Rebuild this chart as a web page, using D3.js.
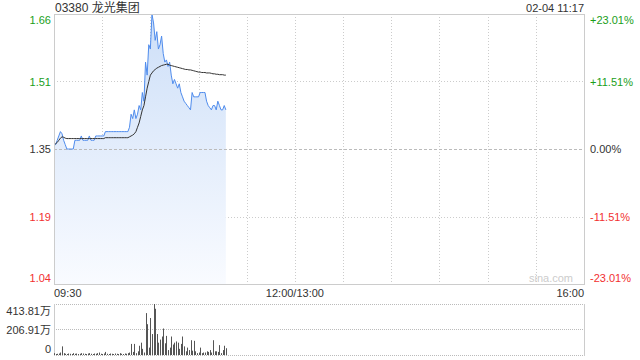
<!DOCTYPE html>
<html>
<head>
<meta charset="utf-8">
<script src="https://cdn.jsdelivr.net/npm/d3@7"></script>
<style>
  body { margin: 0; background: #fff; }
  text { font-family: "Liberation Sans", Arial, "Noto Sans CJK SC", sans-serif; }
</style>
</head>
<body>
<svg id="chart" width="640" height="360"></svg>
<script>
// quote header
var stockTitle = "03380 龙光集团";
var stamp = "02-04 11:17";
var prevClose = 1.35;

// axis ticks
var pctTicks = [0.2301, 0.1151, 0, -0.1151, -0.2301];
var priceLabels = ["1.66", "1.51", "1.35", "1.19", "1.04"];
var pctLabels = ["+23.01%", "+11.51%", "0.00%", "-11.51%", "-23.01%"];
var timeTicks = [0, 150, 330];
var timeLabels = ["09:30", "12:00/13:00", "16:00"];
var volTicks = [413.81, 206.91, 0];
var volLabels = ["413.81万", "206.91万", "0"];

// minute data from 09:30 (index = minute)
var price = [
  1.36, 1.36, 1.37, 1.38, 1.39, 1.385, 1.37, 1.36, 1.35, 1.35,
  1.35, 1.35, 1.35, 1.37, 1.37, 1.37, 1.37, 1.38, 1.37, 1.37,
  1.37, 1.37, 1.38, 1.37, 1.37, 1.37, 1.38, 1.38, 1.38, 1.38,
  1.38, 1.38, 1.39, 1.39, 1.39, 1.39, 1.39, 1.39, 1.39, 1.39,
  1.39, 1.39, 1.39, 1.39, 1.39, 1.39, 1.39, 1.40, 1.43, 1.42,
  1.44, 1.42, 1.43, 1.45, 1.44, 1.48, 1.46, 1.55, 1.52, 1.59,
  1.58, 1.66, 1.64, 1.60, 1.62, 1.58, 1.59, 1.61, 1.57, 1.55,
  1.555, 1.54, 1.55, 1.52, 1.50, 1.51, 1.50, 1.49, 1.50, 1.48,
  1.47, 1.46, 1.455, 1.45, 1.445, 1.44, 1.48, 1.47, 1.47, 1.47,
  1.47, 1.48, 1.48, 1.48, 1.48, 1.46, 1.45, 1.445, 1.44, 1.45,
  1.45, 1.44, 1.46, 1.45, 1.44, 1.44, 1.45, 1.44
];
var avg = [
  1.36, 1.362, 1.365, 1.37, 1.375, 1.378, 1.377, 1.375, 1.374, 1.374,
  1.374, 1.374, 1.374, 1.374, 1.374, 1.374, 1.374, 1.374, 1.374, 1.374,
  1.374, 1.374, 1.374, 1.374, 1.374, 1.374, 1.374, 1.374, 1.374, 1.374,
  1.374, 1.374, 1.376, 1.376, 1.376, 1.376, 1.376, 1.376, 1.376, 1.376,
  1.376, 1.376, 1.376, 1.376, 1.376, 1.376, 1.376, 1.378, 1.38, 1.382,
  1.385, 1.39, 1.40, 1.41, 1.425, 1.44, 1.45, 1.47, 1.49, 1.505,
  1.52, 1.525, 1.53, 1.533, 1.536, 1.538, 1.54, 1.542, 1.543, 1.544,
  1.545, 1.545, 1.543, 1.542, 1.541, 1.540, 1.539, 1.538, 1.537, 1.536,
  1.535, 1.534, 1.533, 1.533, 1.532, 1.532, 1.531, 1.530, 1.529, 1.528,
  1.527, 1.527, 1.526, 1.526, 1.526, 1.525, 1.525, 1.525, 1.524, 1.523,
  1.523, 1.522, 1.522, 1.521, 1.521, 1.521, 1.520, 1.520
];
// volume in 万 shares
var vol = [
  15, 8, 10, 12, 20, 70, 15, 10, 8, 12,
  10, 8, 15, 10, 12, 8, 10, 15, 12, 10,
  8, 12, 15, 10, 8, 12, 10, 15, 20, 10,
  8, 12, 25, 10, 8, 12, 10, 8, 12, 10,
  8, 15, 10, 8, 12, 10, 15, 20, 90, 25,
  90, 15, 30, 75, 100, 50, 20, 340, 250, 60,
  300, 170, 413.81, 375, 170, 100, 125, 150, 215, 95,
  155, 40, 60, 150, 85, 100, 110, 100, 50, 90,
  150, 70, 30, 60, 40, 120, 35, 115, 30, 15,
  20, 60, 15, 20, 20, 30, 25, 40, 20, 120,
  30, 30, 25, 80, 15, 40, 75, 55
];

var green = "#1a9e1a", red = "#f23030", dark = "#333";
var pL = 54, pR = 584, pT = 14, pB = 284;
var vT = 304, vB = 355;

var svg = d3.select("#chart");

var x = d3.scaleLinear().domain([0, 330]).range([pL, pR]);
var y = d3.scaleLinear()
  .domain([prevClose * (1 - 0.2301), prevClose * (1 + 0.2301)])
  .range([pB, pT]);
var yv = d3.scaleLinear().domain([0, 413.81]).range([vB, vT]);

function tickColor(p) { return p > 0 ? green : (p < 0 ? red : dark); }

// gradient for price area
var grad = svg.append("defs").append("linearGradient")
  .attr("id", "fillGrad")
  .attr("gradientUnits", "userSpaceOnUse")
  .attr("x1", 0).attr("y1", pT).attr("x2", 0).attr("y2", pB);
grad.append("stop").attr("offset", "0%").attr("stop-color", "#cddff8");
grad.append("stop").attr("offset", "100%").attr("stop-color", "#f9fbff");

// vertical grid every 30 min
var gridMins = d3.range(30, 330, 30);
svg.append("g").selectAll("line").data(gridMins).enter().append("line")
  .attr("x1", function(d) { return Math.round(x(d)) + 0.5; })
  .attr("x2", function(d) { return Math.round(x(d)) + 0.5; })
  .attr("y1", pT).attr("y2", pB)
  .attr("stroke", "#ccc").attr("stroke-dasharray", "1,2");

// horizontal grid
svg.append("g").selectAll("line").data([0.1151, -0.1151]).enter().append("line")
  .attr("x1", pL).attr("x2", pR)
  .attr("y1", function(d) { return Math.round(y(prevClose * (1 + d))) + 0.5; })
  .attr("y2", function(d) { return Math.round(y(prevClose * (1 + d))) + 0.5; })
  .attr("stroke", "#ccc").attr("stroke-dasharray", "1,2");

// area + lines
var area = d3.area()
  .x(function(d, i) { return x(i); })
  .y0(pB)
  .y1(function(d) { return y(d); });
svg.append("path").datum(price).attr("d", area).attr("fill", "url(#fillGrad)");

svg.append("line")
  .attr("x1", pL).attr("x2", pR)
  .attr("y1", Math.round(y(prevClose)) + 0.5).attr("y2", Math.round(y(prevClose)) + 0.5)
  .attr("stroke", "#bbb").attr("stroke-dasharray", "3,2");

var line = d3.line()
  .x(function(d, i) { return x(i); })
  .y(function(d) { return y(d); });
svg.append("path").datum(price).attr("d", line)
  .attr("fill", "none").attr("stroke", "#4f8ced").attr("stroke-width", 1);
svg.append("path").datum(avg).attr("d", line)
  .attr("fill", "none").attr("stroke", "#333").attr("stroke-width", 1);

// frame
svg.append("rect")
  .attr("x", pL + 0.5).attr("y", pT + 0.5)
  .attr("width", pR - pL).attr("height", pB - pT)
  .attr("fill", "none").attr("stroke", "#ccc");

// watermark
svg.append("text").attr("x", 573).attr("y", 282)
  .attr("text-anchor", "end").attr("font-size", 11).attr("fill", "#ccc")
  .text("sina.com");

// price axis (left) and percent axis (right)
var tickVals = pctTicks.map(function(p) { return prevClose * (1 + p); });
var yLeft = svg.append("g").attr("transform", "translate(" + pL + ",0)")
  .call(d3.axisLeft(y).tickValues(tickVals).tickSize(0).tickPadding(3)
    .tickFormat(function(d, i) { return priceLabels[i]; }));
var yRight = svg.append("g").attr("transform", "translate(" + pR + ",0)")
  .call(d3.axisRight(y).tickValues(tickVals).tickSize(0).tickPadding(6)
    .tickFormat(function(d, i) { return pctLabels[i]; }));
[yLeft, yRight].forEach(function(g) {
  g.attr("font-family", null);
  g.select(".domain").remove();
  g.selectAll("text")
    .attr("font-size", 11)
    .attr("fill", function(d, i) { return tickColor(pctTicks[i]); })
    .attr("dy", function(d, i) {
      if (i === 0) return "0.9em";
      if (i === pctTicks.length - 1) return "-0.2em";
      return "0.35em";
    });
});

// time axis
svg.append("g").selectAll("text").data(timeTicks).enter().append("text")
  .attr("x", function(d) { return x(d); })
  .attr("y", 297)
  .attr("font-size", 11).attr("fill", dark)
  .attr("text-anchor", function(d, i) { return i === 0 ? "start" : (i === timeTicks.length - 1 ? "end" : "middle"); })
  .text(function(d, i) { return timeLabels[i]; });

// volume panel
svg.append("g").selectAll("line").data(volTicks).enter().append("line")
  .attr("x1", pL).attr("x2", pR)
  .attr("y1", function(d) { return Math.round(yv(d)) + 0.5; })
  .attr("y2", function(d) { return Math.round(yv(d)) + 0.5; })
  .attr("stroke", "#bbb").attr("stroke-dasharray", "1,1");
[pL, pR].forEach(function(xx) {
  svg.append("line").attr("x1", xx + 0.5).attr("x2", xx + 0.5)
    .attr("y1", vT).attr("y2", vB + 1).attr("stroke", "#ccc");
});

svg.append("g").selectAll("rect").data(vol).enter().append("rect")
  .attr("x", function(d, i) { return Math.round(x(i)); })
  .attr("width", 1)
  .attr("y", function(d) { return yv(d); })
  .attr("height", function(d) { return vB - yv(d); })
  .attr("fill", "#555");

var vAxis = svg.append("g").attr("transform", "translate(" + pL + ",0)")
  .call(d3.axisLeft(yv).tickValues(volTicks).tickSize(0).tickPadding(3)
    .tickFormat(function(d, i) { return volLabels[i]; }));
vAxis.attr("font-family", null);
vAxis.select(".domain").remove();
vAxis.selectAll("text").attr("font-size", 11).attr("fill", dark)
  .attr("dy", function(d, i) {
    if (i === 0) return "0.95em";
    if (i === volTicks.length - 1) return "-0.2em";
    return "0.35em";
  });

// header
svg.append("text").attr("x", 55).attr("y", 12)
  .attr("font-size", 12).attr("fill", dark).text(stockTitle);
svg.append("text").attr("x", pR).attr("y", 12)
  .attr("text-anchor", "end").attr("font-size", 11).attr("fill", dark).text(stamp);
</script>
</body>
</html>
